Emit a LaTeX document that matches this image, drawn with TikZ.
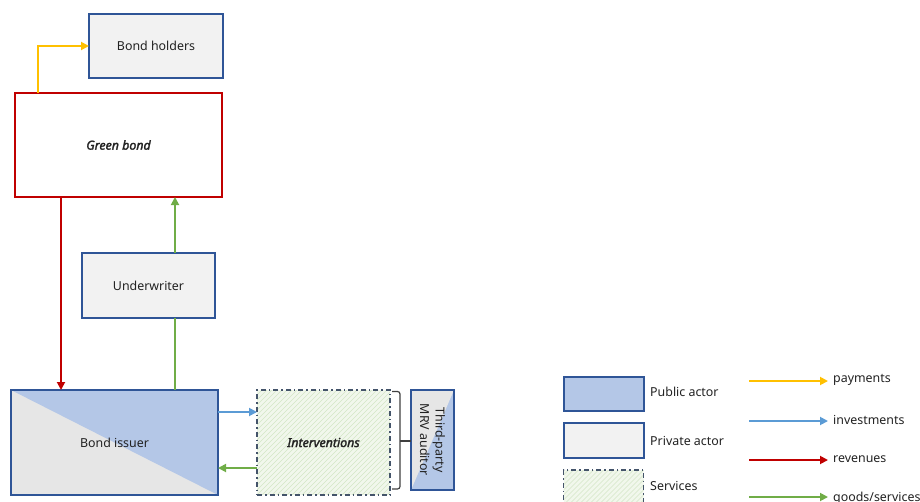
\documentclass[tikz,border=0pt]{standalone}
\usepackage{fontspec}
\setmainfont{Noto Sans}
\newfontfamily\bolditalicfont{Noto Sans Italic}[FakeBold=2]
\usetikzlibrary{arrows.meta,calc}

\definecolor{actorblue}{HTML}{2F5597}
\definecolor{publicfill}{HTML}{B4C7E7}
\definecolor{privatefill}{HTML}{F2F2F2}
\definecolor{splitgrey}{HTML}{E6E6E6}
\definecolor{bondred}{HTML}{C00000}
\definecolor{paycol}{HTML}{FFC000}
\definecolor{investcol}{HTML}{5B9BD5}
\definecolor{goodscol}{HTML}{70AD47}
\definecolor{hatchbg}{HTML}{F1F7EC}
\definecolor{hatchline}{HTML}{D3E6C6}
\definecolor{servicedash}{HTML}{44546A}
\definecolor{bracecol}{HTML}{404040}
\definecolor{txt}{HTML}{222222}

\tikzset{
  box/.style={rectangle, inner sep=0pt, outer sep=0pt, line width=2pt,
    font=\fontsize{12.4}{14.5}\selectfont, text=txt, align=center},
  privatebox/.style={box, draw=actorblue, fill=privatefill},
  publicbox/.style={box, draw=actorblue, fill=publicfill},
  bondbox/.style={box, draw=bondred, fill=white},
  issuerbox/.style={box, draw=actorblue,
    path picture={
      \fill[splitgrey] (path picture bounding box.north west) rectangle (path picture bounding box.south east);
      \fill[publicfill] (path picture bounding box.north west) -- (path picture bounding box.north east)
        -- (path picture bounding box.south east) -- cycle;}},
  auditorbox/.style={box, draw=actorblue, line width=1.6pt,
    path picture={
      \fill[publicfill] (path picture bounding box.north west) rectangle (path picture bounding box.south east);
      \fill[splitgrey] (path picture bounding box.north west) -- (path picture bounding box.north east)
        -- (path picture bounding box.south west) -- cycle;}},
  servicebox/.style={box, draw=servicedash, line width=1.1pt,
    dash pattern=on 5pt off 3pt on 1.5pt off 3pt,
    path picture={
      \fill[hatchbg] (path picture bounding box.north west) rectangle (path picture bounding box.south east);
      \foreach \k in {-200,-195,...,200}
        \draw[hatchline, solid, line width=0.6pt] ($(path picture bounding box.south west)+(\k,0)$) -- ++(150,-150);}},
  flow/.style={line width=1.8pt, -{Triangle[length=8pt,width=8pt]}},
  flowplain/.style={line width=1.8pt},
  pay/.style={flow, draw=paycol},
  invest/.style={flow, draw=investcol},
  rev/.style={flow, draw=bondred},
  goods/.style={flow, draw=goodscol},
  legendtext/.style={anchor=west, inner sep=0pt, font=\fontsize{12.4}{14.5}\selectfont, text=txt},
}

\begin{document}
\begin{tikzpicture}[x=1pt, y=-1pt]
  \useasboundingbox (0,0) rectangle (920,501);
  \clip (0,0) rectangle (920,501);

  % actors
  \node[privatebox, minimum width=134pt, minimum height=64pt] (bh) at (156,46) {Bond holders};
  \node[bondbox, minimum width=207pt, minimum height=104pt] (gb) at (118.5,145) {\bolditalicfont Green bond};
  \node[privatebox, minimum width=133pt, minimum height=65pt] (uw) at (148.5,285.5) {Underwriter};
  \node[issuerbox, minimum width=207pt, minimum height=105pt] (bi) at (114.5,442.5) {Bond issuer};
  \node[servicebox, minimum width=133pt, minimum height=105pt] (iv) at (323.5,442.5) {\bolditalicfont Interventions};
  \node[auditorbox, minimum width=43pt, minimum height=100pt] (au) at (432.5,440)
    {\rotatebox{-90}{\shortstack{Third-party\\MRV auditor}}};

  % flows between actors
  \coordinate (payfrom) at ($(gb.north west)+(23,0)$);
  \draw[pay] (payfrom) |- (bh.west);

  \coordinate (revfrom) at ($(gb.south west)+(46,0)$);
  \draw[rev] (revfrom) -- (revfrom |- bi.north);

  \coordinate (goodsfrom) at ($(bi.north west)+(164,0)$);
  \draw[flowplain, draw=goodscol] (goodsfrom) -- (goodsfrom |- uw.south);
  \coordinate (goodsmid) at (goodsfrom |- uw.north);
  \draw[goods] (goodsmid) -- (goodsmid |- gb.south);

  \coordinate (investfrom) at ($(bi.north east)+(0,22)$);
  \draw[invest] (investfrom) -- (investfrom -| iv.west);

  \coordinate (returnfrom) at ($(iv.north west)+(0,78)$);
  \draw[goods] (returnfrom) -- (returnfrom -| bi.east);

  % bracket tying the interventions to the auditor
  \coordinate (brtop) at ($(iv.north east)+(2,1.5)$);
  \coordinate (brbot) at ($(iv.south east)+(2,-6)$);
  \coordinate (brmid) at (400,441);
  \draw[bracecol, line width=1.2pt, rounded corners=2.5pt]
    (brtop) -- ++(8,0) -- (brmid) -- (brbot -| brmid) -- (brbot);
  \draw[bracecol, line width=1.2pt] (brmid) -- (brmid -| au.west);

  % legend: actor types
  \node[publicbox, minimum width=80pt, minimum height=34pt] (lgpub) at (603.5,393.5) {};
  \node[legendtext] (lgpubt) at (650,392) {Public actor};
  \node[privatebox, minimum width=80pt, minimum height=35pt] (lgpriv) at (603.5,440.5) {};
  \node[legendtext] (lgprivt) at (650,441) {Private actor};
  \node[servicebox, minimum width=80pt, minimum height=40pt] (lgserv) at (603.5,490) {};
  \node[legendtext] (lgservt) at (650,486) {Services};

  % legend: flow types
  \coordinate (lgpa) at (749,381);   \coordinate (lgpb) at (828,381);
  \draw[pay] (lgpa) -- (lgpb);
  \node[legendtext] (lgpayt) at (833,380) {payments};
  \coordinate (lgia) at (749,421);   \coordinate (lgib) at (828,421);
  \draw[invest] (lgia) -- (lgib);
  \node[legendtext] (lginvt) at (833,420) {investments};
  \coordinate (lgra) at (749,460);   \coordinate (lgrb) at (828,460);
  \draw[rev] (lgra) -- (lgrb);
  \node[legendtext] (lgrevt) at (833,459) {revenues};
  \coordinate (lgga) at (749,497);   \coordinate (lggb) at (828,497);
  \draw[goods] (lgga) -- (lggb);
  \node[legendtext] (lggoodt) at (833,498) {goods/services};
\end{tikzpicture}
\end{document}
